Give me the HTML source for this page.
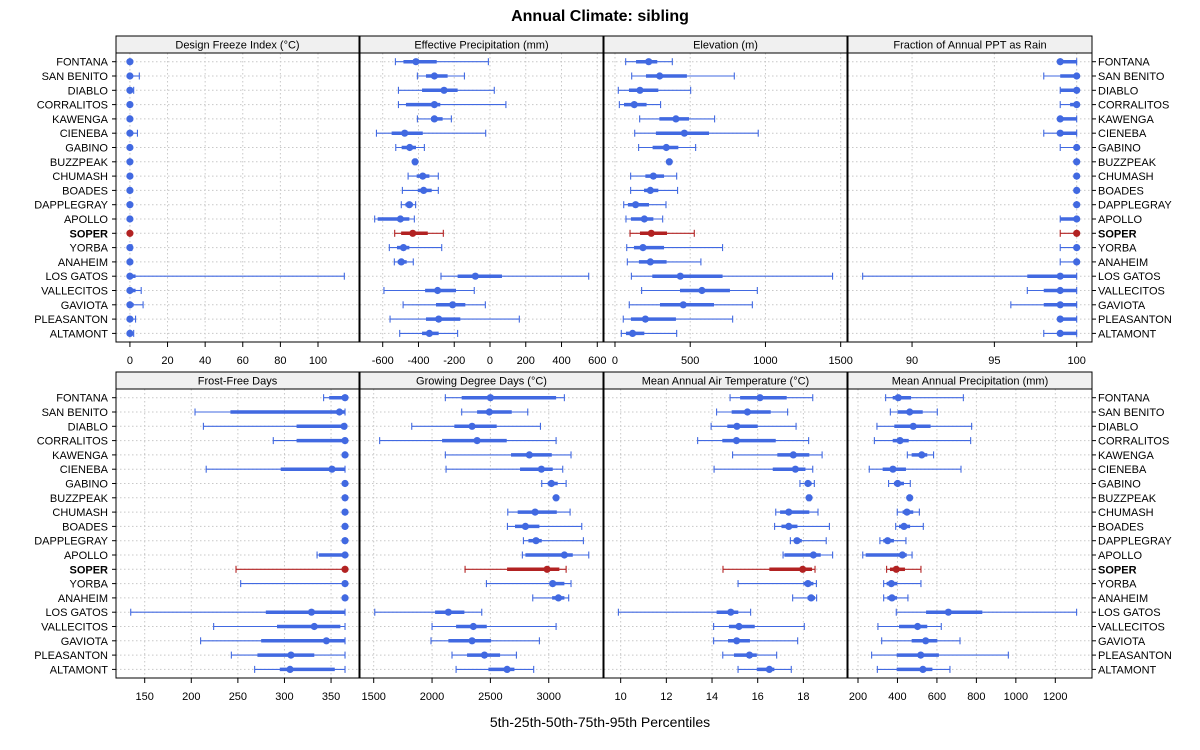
<!DOCTYPE html>
<html><head><meta charset="utf-8"><style>
body{margin:0;background:#fff;}
svg{display:block;font-family:"Liberation Sans",sans-serif;}
</style></head><body>
<svg id="chart" width="1200" height="750" viewBox="0 0 1200 750">
<rect width="1200" height="750" fill="#fff"/>
<text x="600" y="21" text-anchor="middle" font-size="16" font-weight="bold">Annual Climate: sibling</text>
<text x="600" y="727" text-anchor="middle" font-size="14">5th-25th-50th-75th-95th Percentiles</text>
</svg>
<script>
const sites=["FONTANA","SAN BENITO","DIABLO","CORRALITOS","KAWENGA","CIENEBA","GABINO","BUZZPEAK","CHUMASH","BOADES","DAPPLEGRAY","APOLLO","SOPER","YORBA","ANAHEIM","LOS GATOS","VALLECITOS","GAVIOTA","PLEASANTON","ALTAMONT"];
const highlight="SOPER";
const freezeIndex=[[0,0,0,0,0],[0,0,0,0,5],[0,0,0,0.5,2],[0,0,0,0,0],[0,0,0,0,0],[0,0,0,0,4],[0,0,0,0,0],[0,0,0,0,0],[0,0,0,0,0],[0,0,0,0,0],[0,0,0,0,0],[0,0,0,0,0],[0,0,0,0,0],[0,0,0,0.5,1],[0,0,0,0,0],[0,0,0,3,114],[0,0,0,3,6],[0,0,0,2,7],[0,0,0,1,3],[0,0,0,1,2]];
const effPrecip=[[-529,-484,-414,-298,-9],[-406,-358,-311,-237,-143],[-512,-380,-257,-181,24],[-512,-470,-311,-278,89],[-406,-330,-311,-265,-216],[-635,-550,-477,-376,-24],[-527,-494,-449,-414,-367],[-425,-422,-419,-416,-413],[-458,-410,-376,-339,-289],[-490,-404,-371,-326,-289],[-496,-473,-451,-432,-416],[-645,-628,-501,-451,-423],[-533,-497,-432,-348,-261],[-563,-520,-484,-451,-270],[-535,-516,-496,-466,-429],[-274,-181,-82,67,552],[-593,-363,-293,-190,-88],[-486,-302,-209,-138,-26],[-559,-358,-287,-166,164],[-505,-380,-339,-287,-181]];
const elevation=[[71,140,224,281,381],[111,206,297,478,793],[22,93,166,288,503],[29,60,128,210,303],[164,295,405,492,662],[131,272,461,625,952],[157,250,341,421,536],[355,358,361,364,367],[104,202,255,326,410],[104,193,235,288,416],[58,86,137,226,339],[73,106,195,255,317],[100,166,241,346,527],[78,126,186,326,715],[82,159,235,343,571],[109,248,434,715,1446],[177,432,578,764,946],[95,299,454,658,913],[55,106,202,405,782],[42,73,117,195,410]];
const rainFraction=[[99,99,99,100,100],[98,99,100,100,100],[99,99,100,100,100],[99,99.6,100,100,100],[99,99,99,100,100],[98,99,99,100,100],[99,100,100,100,100],[100,100,100,100,100],[100,100,100,100,100],[100,100,100,100,100],[100,100,100,100,100],[99,99,100,100,100],[99,100,100,100,100],[99,100,100,100,100],[99,100,100,100,100],[87,97,99,100,100],[97,98,99,100,100],[96,98,99,100,100],[99,99,99,100,100],[98,99,99,100,100]];
const frostFree=[[342,348,365,365,365],[204,242,359,365,365],[213,313,364,365,365],[288,313,365,365,365],[365,365,365,365,365],[216,296,351,365,365],[365,365,365,365,365],[365,365,365,365,365],[365,365,365,365,365],[365,365,365,365,365],[365,365,365,365,365],[335,337,365,365,365],[248,365,365,365,365],[253,365,365,365,365],[365,365,365,365,365],[135,280,329,365,365],[224,292,332,360,365],[210,275,345,365,365],[243,271,307,332,365],[268,295,306,354,365]];
const growingDD=[[2114,2254,2500,3063,3134],[2254,2386,2491,2683,2820],[1826,2191,2343,2554,2929],[1551,2086,2386,2640,3063],[2114,2677,2834,3026,3191],[2120,2754,2937,3034,3120],[2940,2991,3023,3077,3149],[3055,3060,3063,3066,3070],[2649,2734,2883,3069,3183],[2646,2711,2800,2920,3283],[2783,2826,2891,2940,3297],[2774,2800,3134,3206,3343],[2283,2643,2986,3091,3149],[2466,3006,3034,3134,3191],[2863,3029,3083,3134,3171],[1509,2026,2140,2277,2426],[2000,2206,2354,2469,3063],[1991,2140,2343,2506,2920],[2171,2300,2449,2583,2723],[2206,2483,2643,2706,2871]];
const airTemp=[[14.79,15.23,16.10,17.27,18.41],[14.2,14.86,15.55,16.57,17.31],[13.96,14.67,15.09,16.0,17.68],[13.37,14.45,15.07,16.79,18.23],[14.9,16.86,17.56,18.26,18.82],[14.09,16.66,17.65,18.09,18.41],[17.85,18.1,18.2,18.36,18.48],[18.2,18.22,18.25,18.28,18.3],[16.79,16.98,17.36,18.26,18.64],[16.74,17.04,17.36,17.74,19.14],[17.43,17.61,17.72,17.93,19.0],[17.11,17.17,18.44,18.76,19.28],[14.48,16.51,17.97,18.38,18.51],[15.14,18.0,18.2,18.44,18.57],[17.53,18.18,18.34,18.51,18.58],[9.9,14.2,14.82,15.15,15.69],[14.07,14.74,15.18,15.87,18.04],[14.07,14.7,15.08,15.66,17.75],[14.47,14.96,15.64,15.96,16.83],[15.14,15.96,16.51,16.73,17.47]];
const annualPrecip=[[340,376,404,469,734],[364,401,462,528,602],[296,384,480,568,776],[283,376,413,457,771],[450,472,523,551,583],[257,325,377,443,722],[355,382,401,433,465],[458,460,462,464,466],[399,426,448,480,511],[391,408,433,464,531],[311,328,350,382,443],[224,239,425,447,474],[345,362,394,438,519],[330,345,369,399,519],[330,349,372,398,453],[394,545,658,830,1308],[301,408,502,551,622],[320,472,543,602,717],[269,396,518,610,962],[298,396,529,577,666]];
const panelTitles=["Design Freeze Index (°C)","Effective Precipitation (mm)","Elevation (m)","Fraction of Annual PPT as Rain","Frost-Free Days","Growing Degree Days (°C)","Mean Annual Air Temperature (°C)","Mean Annual Precipitation (mm)"];
const panelData=[freezeIndex,effPrecip,elevation,rainFraction,frostFree,growingDD,airTemp,annualPrecip];
const tickSets=[[0,20,40,60,80,100],[-600,-400,-200,0,200,400,600],[0,500,1000,1500],[90,95,100],[150,200,250,300,350],[1500,2000,2500,3000],[10,12,14,16,18],[200,400,600,800,1000,1200]];
const domains=[[-7.4,121.8],[-727,632],[-73,1542],[86.11,100.93],[119.2,380],[1382.6,3465],[9.27,19.91],[149.3,1386]];

const NS="http://www.w3.org/2000/svg";
const svg=document.getElementById("chart");
function mk(tag,attrs,parent){const e=document.createElementNS(NS,tag);for(const k in attrs)e.setAttribute(k,attrs[k]);(parent||svg).appendChild(e);return e;}
const colX=[116,360,604,848],colW=[243,243,243,244];
const plotTop=[53,389],plotH=[289,289];
function rowY(r,i){return plotTop[r]+8.7+i*14.3;}

panelData.forEach((data,p)=>{
  const r=Math.floor(p/4),c=p%4;
  const x0=colX[c],w=colW[c],y0=plotTop[r],h=plotH[r];
  const d=domains[p];
  const sx=v=>x0+(v-d[0])/(d[1]-d[0])*w;
  const g=mk("g",{});
  
  
  const strip=mk("rect",{x:x0,y:y0-17,width:w,height:17,fill:"#f0f0f0",stroke:"#000","stroke-width":1},g);
  
  
  const st=mk("text",{x:x0+w/2,y:y0-4.5,"text-anchor":"middle","font-size":11},g);
  st.textContent=panelTitles[p];
  
  
  // grid
  tickSets[p].forEach(t=>{
    const x=sx(t);
    if(x>x0+1&&x<x0+w-1){const gl=mk("line",{x1:x,x2:x,y1:y0,y2:y0+h,stroke:"#c8c8c8","stroke-dasharray":"1.5,2.5"},g);
      
      }
    const tk=mk("line",{x1:x,x2:x,y1:y0+h,y2:y0+h+5,stroke:"#000"},g);
    
    
    const tl=mk("text",{x:x,y:y0+h+22,"text-anchor":"middle","font-size":11},g);
    tl.textContent=String(t).replace("-","-");
    
    
  });
  sites.forEach((s,i)=>{
    const y=rowY(r,i);
    const hl=mk("line",{x1:x0,x2:x0+w,y1:y,y2:y,stroke:"#c8c8c8","stroke-dasharray":"1.5,2.5"},g);
    
    
  });
  sites.forEach((s,i)=>{
    const q=data[i],y=rowY(r,i);
    const col=s===highlight?"#b22222":"#4169e1";
    const m=mk("g",{},g);
    
    
    mk("line",{x1:sx(q[0]),x2:sx(q[4]),y1:y,y2:y,stroke:col,"stroke-width":1.1},m);
    mk("line",{x1:sx(q[0]),x2:sx(q[0]),y1:y-3.5,y2:y+3.5,stroke:col,"stroke-width":1.1},m);
    mk("line",{x1:sx(q[4]),x2:sx(q[4]),y1:y-3.5,y2:y+3.5,stroke:col,"stroke-width":1.1},m);
    mk("line",{x1:sx(q[1]),x2:sx(q[3]),y1:y,y2:y,stroke:col,"stroke-width":3.5},m);
    mk("circle",{cx:sx(q[2]),cy:y,r:3.6,fill:col},m);
  });
  const bd=mk("rect",{x:x0,y:y0,width:w,height:h,fill:"none",stroke:"#000","stroke-width":1},g);
  
  
  // row labels
  if(c===0||c===3){
    sites.forEach((s,i)=>{
      const y=rowY(r,i);
      const left=c===0;
      const tk=mk("line",{x1:left?x0-4:x0+w,x2:left?x0:x0+w+4,y1:y,y2:y,stroke:"#000"},g);
      
      
      const t=mk("text",{x:left?x0-8:x0+w+6,y:y+4,"text-anchor":left?"end":"start","font-size":11,"font-weight":s===highlight?"bold":"normal"},g);
      t.textContent=s;
      
      
    });
  }
});
</script>
</body></html>
